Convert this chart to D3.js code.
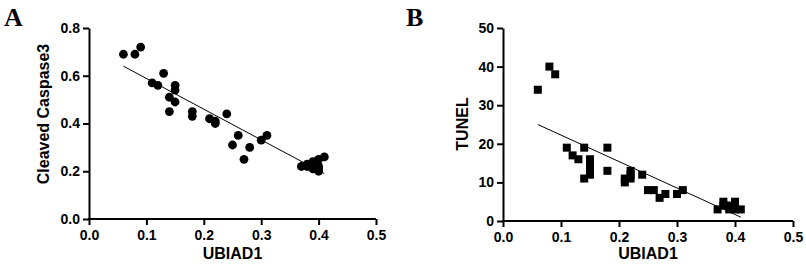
<!DOCTYPE html>
<html>
<head>
<meta charset="utf-8">
<script src="https://cdn.jsdelivr.net/npm/d3@7"></script>
<style>
  body { margin: 0; background: #fff; }
  text { font-family: "Liberation Sans", Arial, sans-serif; font-weight: bold; fill: #000; }
</style>
</head>
<body>
<svg id="drawing_region"></svg>
<script>
// panel A: UBIAD1 vs Cleaved Caspase3
const ubiadA = [0.06,0.08,0.09,0.11,0.12,0.13,0.14,0.14,0.15,0.15,0.15,0.18,0.18,0.21,0.22,0.22,0.24,0.25,0.26,0.27,0.28,0.30,0.31,
                0.37,0.38,0.38,0.39,0.39,0.39,0.40,0.40,0.40,0.40,0.41];
const caspase = [0.69,0.69,0.72,0.57,0.56,0.61,0.51,0.45,0.56,0.54,0.49,0.45,0.43,0.42,0.41,0.40,0.44,0.31,0.35,0.25,0.30,0.33,0.35,
                0.22,0.22,0.23,0.21,0.24,0.22,0.20,0.22,0.25,0.21,0.26];
const fitA = [[0.06,0.64],[0.41,0.19]];

// panel B: UBIAD1 vs TUNEL
const ubiadB = [0.06,0.08,0.09,0.11,0.12,0.13,0.14,0.14,0.15,0.15,0.15,0.15,0.15,0.18,0.18,0.21,0.21,0.22,0.22,0.22,0.24,0.25,0.26,0.27,0.28,0.30,0.31,
                0.37,0.38,0.38,0.39,0.39,0.40,0.40,0.40,0.41];
const tunel = [34,40,38,19,17,16,19,11,16,15,14,13,12,19,13,11,10,13,12,11,12,8,8,6,7,7,8,
               3,5,4,4,3,5,4,3,3];
const fitB = [[0.06,25],[0.41,1]];

const xTicks = [0,0.1,0.2,0.3,0.4,0.5];
const yTicksA = [0,0.2,0.4,0.6,0.8];
const yTicksB = [0,10,20,30,40,50];

const svg = d3.select('#drawing_region').attr('width', 806).attr('height', 274);

function panel(cfg) {
    const g = svg.append('g');
    const xscale = d3.scaleLinear().domain([0, 0.5]).range([cfg.left, cfg.right]);
    const yscale = d3.scaleLinear().domain(cfg.ydomain).range([cfg.bottom, cfg.top]);

    const xaxis = d3.axisBottom(xscale).tickValues(xTicks).tickFormat(d3.format('.1f')).tickSizeInner(6).tickSizeOuter(0).tickPadding(5);
    const yaxis = d3.axisLeft(yscale).tickValues(cfg.yticks).tickFormat(cfg.yformat).tickSizeInner(6).tickSizeOuter(0).tickPadding(3);

    const gx = g.append('g').attr('transform', `translate(0,${cfg.bottom})`).call(xaxis);
    const gy = g.append('g').attr('transform', `translate(${cfg.left},0)`).call(yaxis);
    [gx, gy].forEach(a => {
        a.selectAll('path,line').attr('stroke', '#000').attr('stroke-width', 2);
        a.selectAll('text').style('font-size', '14px').style('font-family', '"Liberation Sans", Arial, sans-serif').style('font-weight', 'bold');
    });
    // extend x axis line left to meet y axis
    gx.select('path').attr('d', `M${cfg.left - 1},0H${cfg.right}`);

    // fit line
    g.append('line')
        .attr('x1', xscale(cfg.fit[0][0])).attr('y1', yscale(cfg.fit[0][1]))
        .attr('x2', xscale(cfg.fit[1][0])).attr('y2', yscale(cfg.fit[1][1]))
        .attr('stroke', '#000').attr('stroke-width', 1);

    const pts = cfg.xs.map((x, i) => ({x: x, y: cfg.ys[i]}));
    if (cfg.shape === 'circle') {
        g.selectAll('circle.pt').data(pts).enter().append('circle')
            .attr('cx', d => xscale(d.x)).attr('cy', d => yscale(d.y)).attr('r', 4.4).attr('fill', '#000');
    } else {
        g.selectAll('rect.pt').data(pts).enter().append('rect')
            .attr('x', d => xscale(d.x) - 4).attr('y', d => yscale(d.y) - 4)
            .attr('width', 8).attr('height', 8).attr('fill', '#000');
    }

    // titles
    g.append('text').attr('x', (cfg.left + cfg.right) / 2).attr('y', 259)
        .attr('text-anchor', 'middle').style('font-size', '16px').text('UBIAD1');
    g.append('text').attr('transform', `translate(${cfg.ytitleX},${cfg.ytitleY}) rotate(-90)`)
        .attr('text-anchor', 'middle').style('font-size', '16px').text(cfg.ytitle);
    g.append('text').attr('x', cfg.letterX).attr('y', 26)
        .style('font-family', '"Liberation Serif", "Times New Roman", serif')
        .style('font-size', '26px').text(cfg.letter);
}

panel({left: 89, right: 376, top: 28, bottom: 219, ydomain: [0, 0.8], yticks: yTicksA, yformat: d3.format('.1f'),
       xs: ubiadA, ys: caspase, fit: fitA, shape: 'circle', ytitle: 'Cleaved Caspase3', ytitleX: 49, ytitleY: 114,
       letter: 'A', letterX: 4});
panel({left: 503, right: 793, top: 28, bottom: 221, ydomain: [0, 50], yticks: yTicksB, yformat: d3.format('d'),
       xs: ubiadB, ys: tunel, fit: fitB, shape: 'square', ytitle: 'TUNEL', ytitleX: 468, ytitleY: 124,
       letter: 'B', letterX: 406});
</script>
</body>
</html>
